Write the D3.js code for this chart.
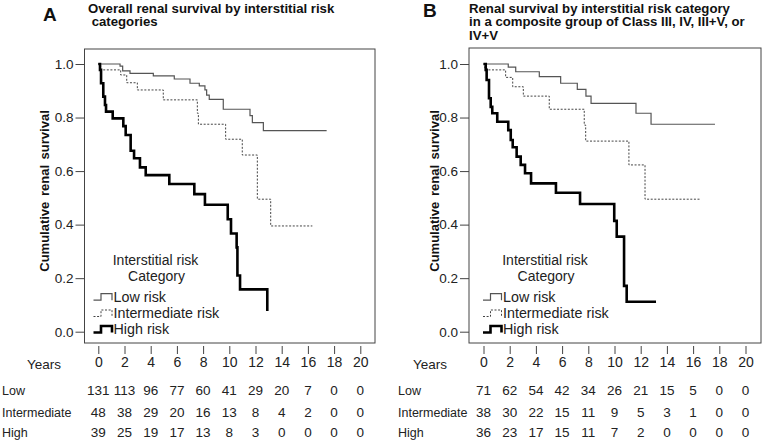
<!DOCTYPE html>
<html><head><meta charset="utf-8">
<script src="https://cdn.jsdelivr.net/npm/d3@7"></script>
<style>
html,body{margin:0;padding:0;background:#fff;}
svg{display:block;font-family:Arial,"Liberation Sans",sans-serif;}
</style></head>
<body><svg id="chart" width="766" height="441"></svg>
<script>
// ---------- data ----------
const yearTicks = [0,2,4,6,8,10,12,14,16,18,20];
const survTicks = [0,0.2,0.4,0.6,0.8,1.0];
const seriesNames = ["Low risk","Intermediate risk","High risk"];
const rowLabels = ["Low","Intermediate","High"];

// Panel A step curves: [year, survival after drop]
const lowA = [[0,1],[1.66,0.992],[1.86,0.974],[2.42,0.965],[4.2,0.956],[5.8,0.944],[7.0,0.928],[7.71,0.918],[8.14,0.903],[8.27,0.884],[8.47,0.868],[9.54,0.831],[11.58,0.807],[11.76,0.781],[12.6,0.751],[17.43,0.751]];
const intA = [[0,1],[0.18,0.978],[1.71,0.959],[2.17,0.930],[2.98,0.903],[4.96,0.866],[7.56,0.816],[7.64,0.775],[9.72,0.719],[10.99,0.660],[12.14,0.495],[13.16,0.395],[16.34,0.395]];
const highA = [[0,1],[0.13,0.978],[0.21,0.928],[0.38,0.878],[0.51,0.847],[0.59,0.822],[1.1,0.797],[1.91,0.768],[2.09,0.735],[2.47,0.676],[2.73,0.648],[3.18,0.614],[3.62,0.585],[5.42,0.552],[7.33,0.514],[8.14,0.474],[9.88,0.420],[10.13,0.367],[10.56,0.315],[10.62,0.21],[10.82,0.158],[12.9,0.077]];

// Panel B step curves
const lowB = [[0,1],[1.89,0.988],[2.46,0.971],[4.26,0.953],[5.89,0.928],[7.16,0.905],[7.82,0.880],[8.21,0.853],[11.64,0.816],[12.79,0.775],[17.67,0.775]];
const intB = [[0,1],[0.1,0.978],[1.69,0.950],[2.23,0.915],[3.04,0.880],[5.02,0.831],[7.69,0.772],[7.8,0.712],[11.1,0.623],[12.33,0.495],[16.5,0.495]];
const highB = [[0,1],[0.17,0.978],[0.24,0.94],[0.42,0.872],[0.55,0.840],[0.67,0.816],[1.05,0.784],[1.89,0.753],[2.08,0.716],[2.23,0.689],[2.53,0.654],[2.84,0.623],[3.17,0.592],[3.63,0.554],[5.53,0.519],[7.37,0.477],[9.98,0.414],[10.17,0.355],[10.73,0.171],[10.93,0.112],[13.17,0.112]];

// Numbers at risk
const lowA_n  = [131,113,96,77,60,41,29,20,7,0,0];
const intA_n  = [48,38,29,20,16,13,8,4,2,0,0];
const highA_n = [39,25,19,17,13,8,3,0,0,0,0];
const lowB_n  = [71,62,54,42,34,26,21,15,5,0,0];
const intB_n  = [38,30,22,15,11,9,5,3,1,0,0];
const highB_n = [36,23,17,15,11,7,2,0,0,0,0];

const titleA = ["Overall renal survival by interstitial risk"," categories"];
const titleB = ["Renal survival by interstitial risk category","in a composite group of Class III, IV, III+V, or","IV+V"];

// ---------- drawing ----------
const svg = d3.select("#chart");
const styles = [
  {stroke:"#555", width:1.2, dash:null},
  {stroke:"#444", width:1, dash:"2,1.6"},
  {stroke:"#000", width:2.6, dash:null}
];

function panel(cfg){
  const g = svg.append("g");
  const x = d3.scaleLinear().domain([0,20]).range([cfg.x0, cfg.x0 + 262]);
  const y = d3.scaleLinear().domain([0,1]).range([331.7, 64]);

  // letter + title
  g.append("text").attr("x", cfg.letterX).attr("y", cfg.letterY)
    .attr("font-size", 19).attr("font-weight","bold").attr("fill","#111").text(cfg.letter);
  cfg.title.forEach((t,i)=>{
    g.append("text").attr("x", cfg.boxL + cfg.titleDx).attr("y", 12.7 + i*13.5)
      .attr("font-size", 13.2).attr("font-weight","bold").attr("fill","#111")
      .attr("xml:space","preserve").style("white-space","pre").text(t);
  });

  // box
  g.append("rect").attr("x", cfg.boxL).attr("y", cfg.boxT)
    .attr("width", cfg.boxR - cfg.boxL).attr("height", 343 - cfg.boxT)
    .attr("fill","none").attr("stroke","#444").attr("stroke-width",1);

  // y axis
  const ya = g.append("g").attr("transform", `translate(${cfg.boxL},0)`)
    .call(d3.axisLeft(y).tickValues(survTicks).tickFormat(d3.format(".1f")).tickSize(9).tickPadding(2));
  ya.select(".domain").remove();
  ya.selectAll("line").attr("stroke","#444");
  ya.selectAll("text").attr("font-size",13.5).attr("fill","#222").attr("font-family","Arial,'Liberation Sans',sans-serif");

  // x axis (ticks below box)
  const xa = g.append("g").attr("transform", `translate(0,346)`)
    .call(d3.axisBottom(x).tickValues(yearTicks).tickSize(8).tickPadding(3));
  xa.select(".domain").remove();
  xa.selectAll("line").attr("stroke","#444");
  xa.selectAll("text").attr("font-size",14).attr("fill","#222").attr("font-family","Arial,'Liberation Sans',sans-serif");

  // y label
  g.append("text").attr("transform", `translate(${cfg.ylabX},191) rotate(-90)`)
    .attr("text-anchor","middle").attr("font-size",13).attr("font-weight","bold")
    .attr("word-spacing","2").attr("fill","#111").text("Cumulative renal survival");

  // Years
  g.append("text").attr("x", cfg.yearsX).attr("y", 369).attr("font-size",13.5).attr("fill","#222").text("Years");

  // curves
  const line = d3.line().x(d=>x(d[0])).y(d=>y(d[1])).curve(d3.curveStepAfter);
  cfg.curves.forEach((c,i)=>{
    g.append("path").attr("d", line(c)).attr("fill","none")
      .attr("stroke", styles[i].stroke).attr("stroke-width", styles[i].width)
      .attr("stroke-dasharray", styles[i].dash).attr("stroke-linejoin","miter");
  });

  // legend
  const lx = cfg.boxL + cfg.legDx;
  g.append("text").attr("x", lx + 62).attr("y", 265).attr("text-anchor","middle")
    .attr("font-size",14).attr("fill","#222").text("Interstitial risk");
  g.append("text").attr("x", lx + 63).attr("y", 281).attr("text-anchor","middle")
    .attr("font-size",14).attr("fill","#222").text("Category");
  const legY = [296.7, 313, 329];
  seriesNames.forEach((n,i)=>{
    const cy = legY[i];
    g.append("path").attr("d", `M${lx},${cy+3.5}H${lx+7.5}V${cy-3}H${lx+18.5}V${cy+3.5}`)
      .attr("fill","none").attr("stroke", styles[i].stroke).attr("stroke-width", styles[i].width)
      .attr("stroke-dasharray", styles[i].dash);
    g.append("text").attr("x", lx + 20).attr("y", cy + 5).attr("font-size",14.3).attr("fill","#222").text(n);
  });

  // numbers at risk
  const rowY = [390, 411.5, 431.5];
  cfg.table.forEach((row,ri)=>{
    g.append("text").attr("x", cfg.rowX).attr("y", rowY[ri] + 5).attr("font-size",12.5).attr("fill","#222").text(rowLabels[ri]);
    g.selectAll(null).data(row).enter().append("text")
      .attr("x",(d,i)=>x(yearTicks[i])).attr("y", rowY[ri] + 5)
      .attr("text-anchor","middle").attr("font-size",13.5).attr("fill","#222").text(d=>d);
  });
}

panel({letter:"A", letterX:43, letterY:21, title:titleA, titleDx:3.5,
  boxL:84.5, boxR:375, boxT:49, x0:98.3, ylabX:49, yearsX:27, rowX:2, legDx:9,
  curves:[lowA,intA,highA], table:[lowA_n,intA_n,highA_n]});
panel({letter:"B", letterX:423, letterY:17, title:titleB, titleDx:0,
  boxL:469, boxR:761, boxT:48, x0:483.5, ylabX:439, yearsX:413, rowX:398, legDx:14,
  curves:[lowB,intB,highB], table:[lowB_n,intB_n,highB_n]});
</script></body></html>
